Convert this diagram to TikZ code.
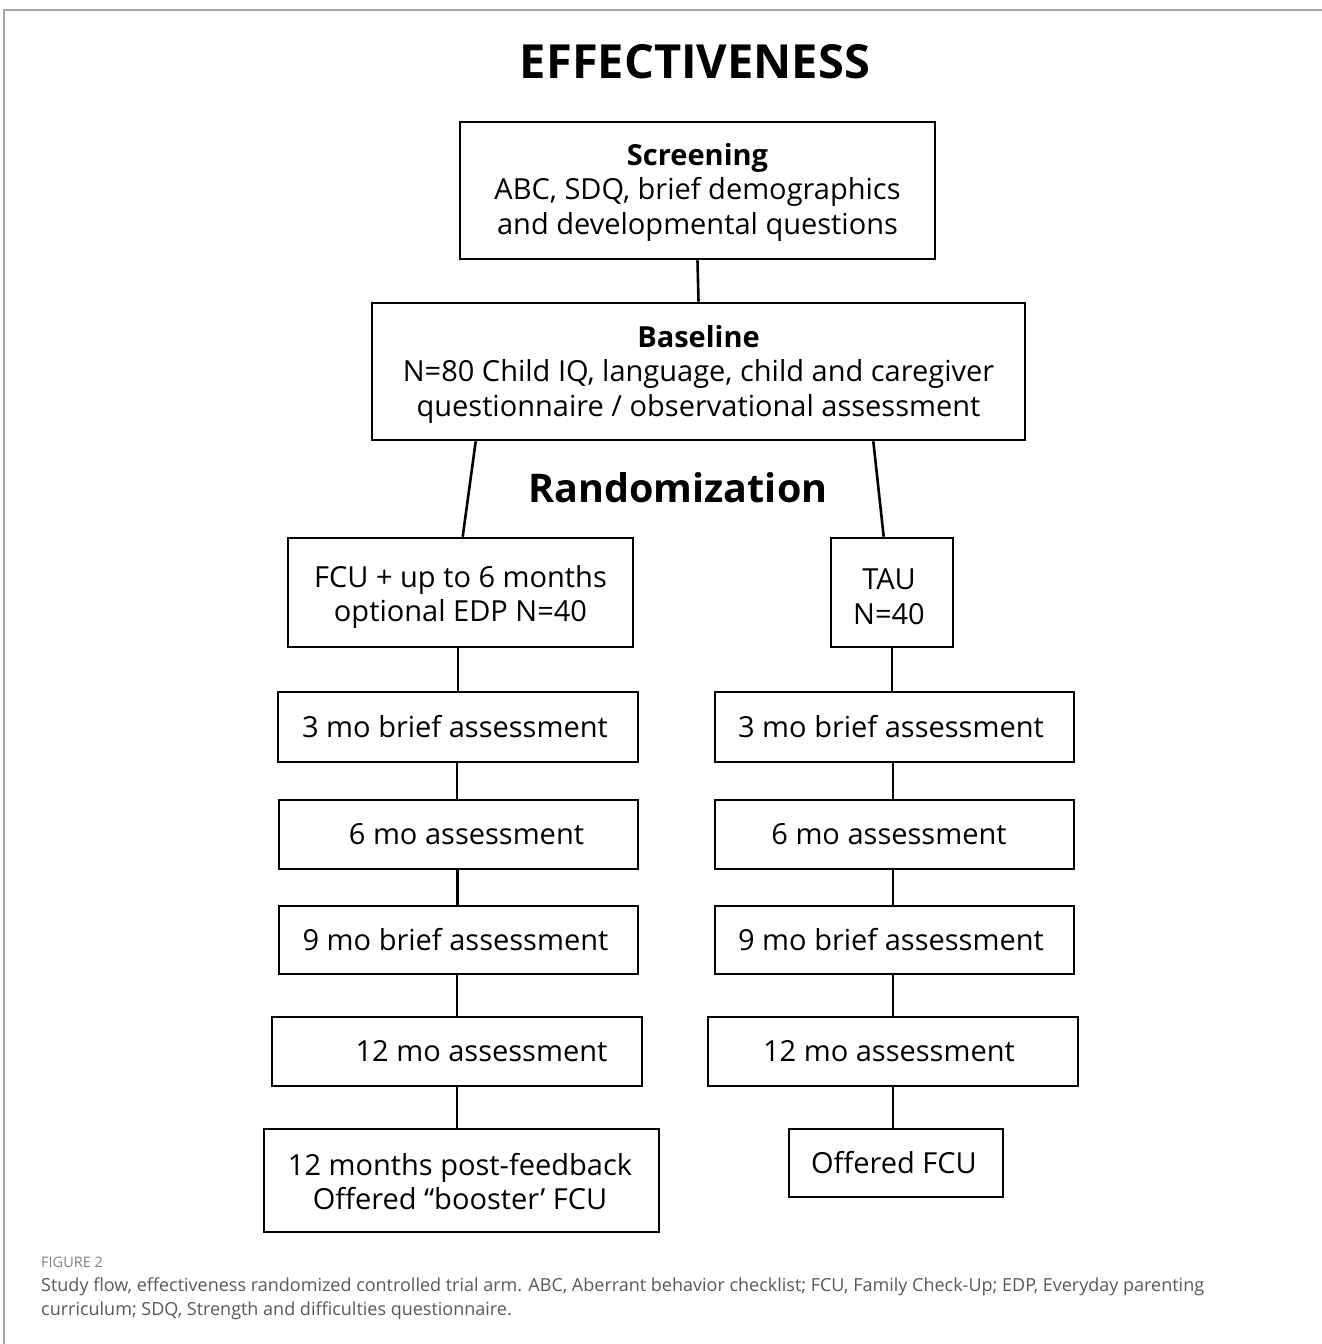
\documentclass[tikz,border=0pt]{standalone}
\usepackage{fontspec}
\setmainfont{Open Sans}
\begin{document}
\begin{tikzpicture}[x=1pt,y=-1pt,
  box/.style={draw=black,line width=2.6pt,rectangle,inner sep=0pt,align=center,
    font=\fontsize{29}{34}\selectfont},
  boxtext/.style={inner sep=0pt,align=center,font=\fontsize{29}{34.5}\selectfont},
  conn/.style={draw=black,line width=2.6pt},
  frameline/.style={draw=black!35,line width=1.8pt}]
\useasboundingbox (0,0) rectangle (1322,1344);
\fill[white] (0,0) rectangle (1322,1344);
\draw[frameline] (4,1344) -- (4,10) -- (1322,10);

\node[font=\fontsize{47}{52}\bfseries] (title) at (695,62) {EFFECTIVENESS};

\node[box,minimum width=475pt,minimum height=137pt] (scr) at (697.5,190.5) {};
\node[boxtext] (scrT) at ([yshift=-1.5pt]scr.center)
  {\textbf{Screening}\\ABC, SDQ, brief demographics\\and developmental questions};
\node[box,minimum width=653pt,minimum height=137pt] (base) at (698.5,371.5) {};
\node[boxtext] (baseT) at ([yshift=-2.5pt]base.center)
  {\textbf{Baseline}\\N=80 Child IQ, language, child and caregiver\\questionnaire / observational assessment};
\node[font=\fontsize{39.5}{46}\bfseries] (rand) at (678,488) {Randomization};

\node[box,minimum width=345pt,minimum height=109pt] (fcu) at (460.5,592.5) {};
\node[boxtext] (fcuT) at ([yshift=-4.5pt]fcu.center) {FCU + up to 6 months\\optional EDP N=40};
\node[box,minimum width=122pt,minimum height=109pt] (tau) at (892,592.5) {};
\node[boxtext] (tauT) at ([xshift=-3pt,yshift=-4pt]tau.center) {TAU\\N=40};

\node[box,minimum width=360pt,minimum height=70pt] (l3) at (458,727) {3 mo brief assessment\hspace{6pt}};
\node[box,minimum width=359pt,minimum height=69pt] (l6) at (458.5,834.5) {\hspace{16pt}6 mo assessment};
\node[box,minimum width=359pt,minimum height=68pt] (l9) at (458.5,940) {9 mo brief assessment\hspace{6pt}};
\node[box,minimum width=370pt,minimum height=69pt] (l12) at (457,1051.5) {\hspace{49pt}12 mo assessment};
\node[box,minimum width=395pt,minimum height=103pt] (lf) at (461.5,1180.5) {};
\node[boxtext] (lfT) at ([xshift=-1.5pt,yshift=-1pt]lf.center) {12 months post-feedback\\Offered “booster’ FCU};

\node[box,minimum width=359pt,minimum height=70pt] (r3) at (894.5,727) {3 mo brief assessment\hspace{7pt}};
\node[box,minimum width=359pt,minimum height=69pt] (r6) at (894.5,834.5) {6 mo assessment\hspace{11pt}};
\node[box,minimum width=359pt,minimum height=68pt] (r9) at (894.5,940) {9 mo brief assessment\hspace{7pt}};
\node[box,minimum width=370pt,minimum height=69pt] (r12) at (893,1051.5) {12 mo assessment\hspace{8pt}};
\node[box,minimum width=214pt,minimum height=68pt] (rf) at (896,1163) {Offered FCU\hspace{4pt}};

\draw[conn] (scr.south) -- (base.north);
\draw[conn] ([xshift=105pt]base.south west) -- ([xshift=176pt]fcu.north west);
\draw[conn] ([xshift=-153pt]base.south east) -- ([xshift=54pt]tau.north west);

\draw[conn] ([xshift=-2.5pt]fcu.south) -- ([xshift=-2.5pt]fcu.south |- l3.north);
\draw[conn] ([xshift=-1pt]l3.south) -- ([xshift=-1pt]l3.south |- l6.north);
\draw[conn] ([xshift=-1pt]l6.south) -- ([xshift=-1pt]l6.south |- l9.north);
\draw[conn] ([xshift=-1.5pt]l9.south) -- ([xshift=-1.5pt]l9.south |- l12.north);
\draw[conn] (l12.south) -- (l12.south |- lf.north);

\draw[conn] (tau.south) -- (tau.south |- r3.north);
\draw[conn] ([xshift=-1.5pt]r3.south) -- ([xshift=-1.5pt]r3.south |- r6.north);
\draw[conn] ([xshift=-1.5pt]r6.south) -- ([xshift=-1.5pt]r6.south |- r9.north);
\draw[conn] ([xshift=-1.5pt]r9.south) -- ([xshift=-1.5pt]r9.south |- r12.north);
\draw[conn] (r12.south) -- (r12.south |- rf.north);

\node[anchor=base west,text=black!50,inner sep=0pt,font=\fontsize{14.5}{16}\selectfont] (fig) at (41,1267) {FIGURE 2};
\node[anchor=north west,text=black!65,align=left,inner sep=0pt,
  font=\fontsize{18}{24}\selectfont] (cap) at (41,1278)
  {Study flow, effectiveness randomized controlled trial arm. ABC, Aberrant behavior checklist; FCU, Family Check-Up; EDP, Everyday parenting\\curriculum; SDQ, Strength and difficulties questionnaire.};
\end{tikzpicture}
\end{document}
